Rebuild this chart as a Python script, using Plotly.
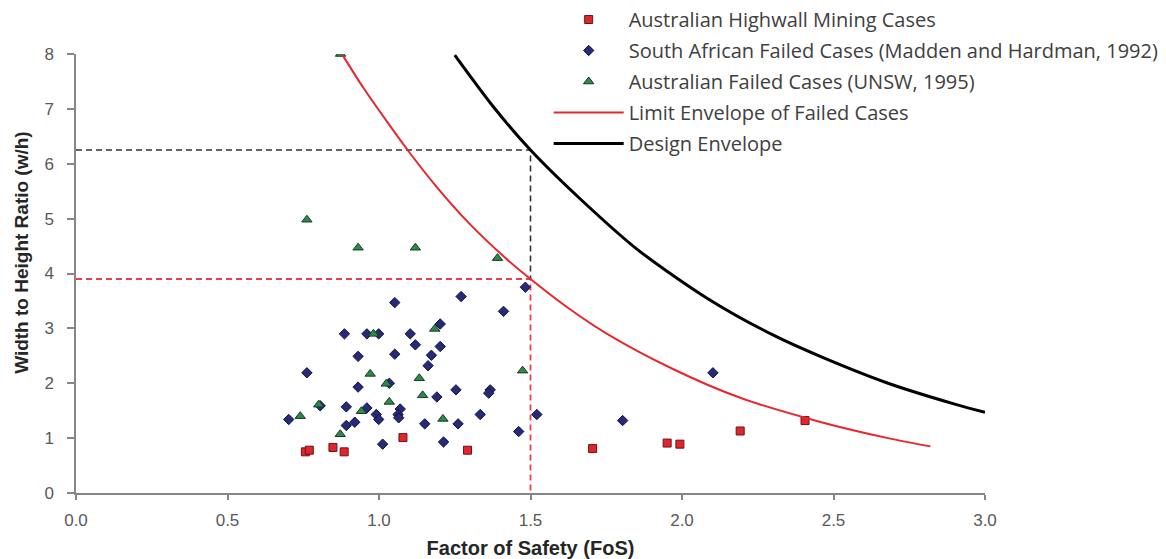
import plotly.graph_objects as go

# ---- data ----
hw_fos = [0.757, 0.770, 0.848, 0.885, 1.079, 1.292, 1.705, 1.951, 1.993, 2.192, 2.406]
hw_wh = [0.75, 0.78, 0.83, 0.75, 1.01, 0.78, 0.81, 0.91, 0.89, 1.13, 1.32]

sa_fos = [1.483, 1.271, 1.052, 1.411, 1.202, 0.886, 0.960, 0.999, 1.103, 1.120,
          1.202, 0.931, 1.052, 1.173, 1.162, 0.762, 0.931, 1.034, 1.254, 1.191,
          1.367, 1.362, 0.806, 0.892, 0.960, 1.070, 1.063, 1.065, 0.991, 0.999,
          0.702, 0.920, 0.892, 1.151, 1.261, 1.334, 1.521, 1.461, 1.012, 1.213,
          2.102, 1.804]
sa_wh = [3.75, 3.58, 3.47, 3.31, 3.08, 2.90, 2.90, 2.90, 2.90, 2.70,
         2.67, 2.49, 2.53, 2.51, 2.32, 2.19, 1.93, 2.00, 1.88, 1.75,
         1.88, 1.82, 1.59, 1.57, 1.55, 1.53, 1.43, 1.37, 1.43, 1.34,
         1.34, 1.29, 1.23, 1.26, 1.26, 1.43, 1.43, 1.12, 0.89, 0.93,
         2.19, 1.32]

au_fos = [0.873, 0.762, 0.931, 1.120, 1.391, 0.982, 1.184, 0.971, 1.024, 1.133,
          1.474, 1.144, 1.034, 0.801, 0.942, 0.740, 1.211, 0.872]
au_wh = [8.00, 4.98, 4.47, 4.47, 4.28, 2.90, 2.99, 2.17, 1.99, 2.09,
         2.23, 1.78, 1.66, 1.61, 1.49, 1.40, 1.35, 1.07]

limit_fos = [0.88, 0.95, 1.03, 1.10, 1.19, 1.30, 1.42, 1.50, 1.62, 1.75, 1.97, 2.19, 2.46, 2.68, 2.82]
limit_wh = [7.98, 7.37, 6.74, 6.21, 5.58, 4.90, 4.27, 3.90, 3.39, 2.91, 2.26, 1.74, 1.29, 1.00, 0.85]

design_fos = [1.25, 1.38, 1.50, 1.66, 1.85, 2.08, 2.30, 2.46, 2.68, 2.90, 3.00]
design_wh = [7.98, 7.02, 6.25, 5.38, 4.45, 3.56, 2.88, 2.48, 2.00, 1.62, 1.47]

target_fos = 1.5
limit_at_target = 3.9
design_at_target = 6.25

x_ticks = [0.0, 0.5, 1.0, 1.5, 2.0, 2.5, 3.0]
y_ticks = [0, 1, 2, 3, 4, 5, 6, 7, 8]

names = ["Australian Highwall Mining Cases",
         "South African Failed Cases (Madden and Hardman, 1992)",
         "Australian Failed Cases (UNSW, 1995)",
         "Limit Envelope of Failed Cases",
         "Design Envelope"]

fig = go.Figure()

# reference dashed lines (no legend)
fig.add_trace(go.Scatter(x=[0, target_fos, target_fos], y=[design_at_target, design_at_target, limit_at_target],
                         mode="lines", line=dict(color="#333333", width=1.6, dash="6px,4px"),
                         showlegend=False, hoverinfo="skip"))
fig.add_trace(go.Scatter(x=[0, target_fos, target_fos], y=[limit_at_target, limit_at_target, 0],
                         mode="lines", line=dict(color="#e8404a", width=1.8, dash="6px,4px"),
                         showlegend=False, hoverinfo="skip"))

fig.add_trace(go.Scatter(x=hw_fos, y=hw_wh, mode="markers", name=names[0], legendgroup="a",
                         marker=dict(symbol="square", size=8, color="#e0262c",
                                     line=dict(color="#6a1414", width=1))))
fig.add_trace(go.Scatter(x=sa_fos, y=sa_wh, mode="markers", name=names[1], legendgroup="b",
                         marker=dict(symbol="diamond", size=8, color="#262a78",
                                     line=dict(color="#14163c", width=1))))
fig.add_trace(go.Scatter(x=au_fos, y=au_wh, mode="markers", name=names[2], legendgroup="c",
                         marker=dict(symbol="triangle-up", size=9, color="#2e8a4a",
                                     line=dict(color="#173a22", width=1))))
fig.add_trace(go.Scatter(x=limit_fos, y=limit_wh, mode="lines", name=names[3], legendgroup="d",
                         line=dict(color="#e8262e", width=2, shape="spline", smoothing=0.8)))
fig.add_trace(go.Scatter(x=design_fos, y=design_wh, mode="lines", name=names[4], legendgroup="e",
                         line=dict(color="#000000", width=3, shape="spline", smoothing=0.8)))

axis_common = dict(showline=True, linecolor="#868686", linewidth=1.5, showgrid=False,
                   zeroline=False, ticks="outside", tickcolor="#868686", tickwidth=1.5,
                   automargin=False,
                   tickfont=dict(family="Liberation Sans", size=17, color="#595959"))

fig.update_layout(
    width=1166, height=559,
    margin=dict(l=76, r=181, t=54, b=66, autoexpand=False),
    paper_bgcolor="white", plot_bgcolor="white",
    xaxis=dict(range=[0, 3], tickvals=x_ticks, ticktext=[f"{v:.1f}" for v in x_ticks],
               ticklen=5, ticklabelstandoff=6,
               title=dict(text="<b>Factor of Safety (FoS)</b>", standoff=12,
                          font=dict(family="Liberation Sans", size=20, color="#262626")),
               **axis_common),
    yaxis=dict(range=[0, 8], tickvals=y_ticks, ticklen=7, ticklabelstandoff=10,
               **axis_common),
    legend=dict(x=0.52, y=1.008, xref="paper", yref="container", xanchor="left", yanchor="top",
                bgcolor="rgba(0,0,0,0)",
                font=dict(family="Open Sans", size=20, color="#404040"),
                traceorder="grouped", tracegroupgap=2, itemwidth=70),
    annotations=[dict(text="<b>Width to Height Ratio (w/h)</b>", textangle=-90,
                      xref="paper", yref="paper", x=-0.0594, y=0.547,
                      xanchor="center", yanchor="middle", showarrow=False,
                      font=dict(family="Liberation Sans", size=19, color="#262626"))],
    showlegend=True,
)

fig.write_html("out.html")
